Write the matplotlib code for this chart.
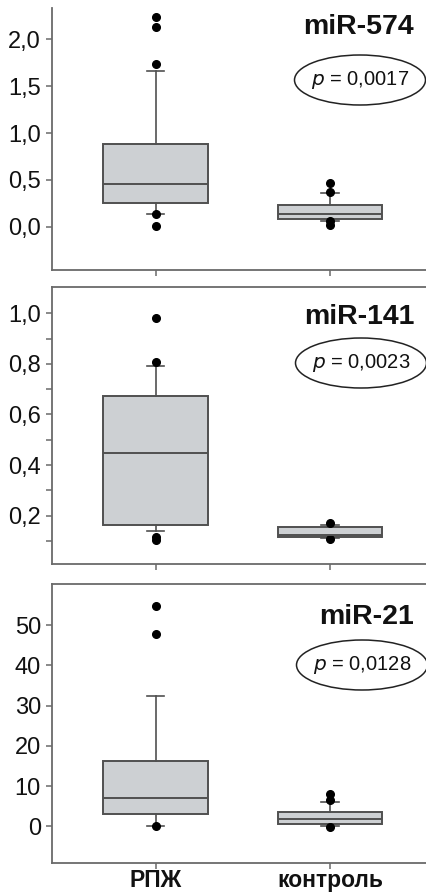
import matplotlib
matplotlib.use("Agg")
import matplotlib.pyplot as plt
from matplotlib.patches import Ellipse

plt.rcParams['font.family'] = ['Liberation Sans', 'DejaVu Sans']
NARROW = ['Liberation Sans Narrow', 'Liberation Sans', 'DejaVu Sans']

groups = ["РПЖ", "контроль"]

# miR-574: q1, median, q3, whisker low, whisker high, outliers
mir574_rpzh = dict(q1=0.25, med=0.456, q3=0.883, whislo=0.139, whishi=1.665,
                   fliers=[2.24, 2.13, 1.74, 0.134, 0.005])
mir574_ctrl = dict(q1=0.082, med=0.132, q3=0.228, whislo=0.064, whishi=0.356,
                   fliers=[0.466, 0.367, 0.06, 0.015])

mir141_rpzh = dict(q1=0.162, med=0.449, q3=0.673, whislo=0.141, whishi=0.792,
                   fliers=[0.98, 0.807, 0.115, 0.104])
mir141_ctrl = dict(q1=0.115, med=0.123, q3=0.154, whislo=0.113, whishi=0.163,
                   fliers=[0.172, 0.107])

mir21_rpzh = dict(q1=3.15, med=6.9, q3=16.2, whislo=0.1, whishi=32.4,
                  fliers=[54.7, 47.7, 0.1])
mir21_ctrl = dict(q1=0.5, med=1.8, q3=3.5, whislo=0.0, whishi=6.05,
                  fliers=[7.9, 6.5, -0.1])

titles = ["miR-574", "miR-141", "miR-21"]
pvalues = ["0,0017", "0,0023", "0,0128"]
yticks = [[0.0, 0.5, 1.0, 1.5, 2.0],
          [0.1, 0.2, 0.3, 0.4, 0.5, 0.6, 0.7, 0.8, 0.9, 1.0],
          [0, 10, 20, 30, 40, 50]]
ytick_labels = [["0,0", "0,5", "1,0", "1,5", "2,0"],
                ["", "0,2", "", "0,4", "", "0,6", "", "0,8", "", "1,0"],
                ["0", "10", "20", "30", "40", "50"]]
ylims = [(-0.462, 2.334), (0.009, 1.104), (-9.13, 60.2)]
panels = [(mir574_rpzh, mir574_ctrl), (mir141_rpzh, mir141_ctrl),
          (mir21_rpzh, mir21_ctrl)]

W, H = 426, 894
fig = plt.figure(figsize=(W / 100, H / 100), dpi=100)

# pixel extents (top, bottom) of each panel
extents = [(8, 270), (287, 564), (584, 863)]
ell_centers = [(360, 80), (361, 363), (362, 665)]
title_y = [27, 317, 617]

spine_col = "#6a6a6a"
edge_col = "#505050"
fill_col = "#cdd0d3"
text_col = "#111111"

for i, (top, bot) in enumerate(extents):
    ax = fig.add_axes([52 / W, 1 - bot / H, 1 - 52 / W, (bot - top) / H])
    stats = []
    for g, d in zip(groups, panels[i]):
        s = dict(d)
        s["label"] = g
        stats.append(s)
    ax.bxp(stats, positions=[1, 2], widths=0.6, capwidths=0.1, patch_artist=True,
           boxprops=dict(facecolor=fill_col, edgecolor=edge_col, linewidth=1.4),
           medianprops=dict(color=edge_col, linewidth=1.4),
           whiskerprops=dict(color=edge_col, linewidth=1.2),
           capprops=dict(color=edge_col, linewidth=1.2),
           flierprops=dict(marker="o", markerfacecolor="black",
                           markeredgecolor="black", markersize=5.5))
    ax.set_xlim(0.405, 2.55)
    ax.set_ylim(*ylims[i])
    ax.set_yticks(yticks[i])
    ax.set_yticklabels(ytick_labels[i], family=NARROW, fontsize=17)
    ax.set_xticks([1, 2])
    if i == 2:
        ax.set_xticklabels(groups, fontsize=16.5, fontweight="bold", color=text_col)
    else:
        ax.set_xticklabels(["", ""])
    ax.spines["right"].set_visible(False)
    if i == 0:
        ax.spines["top"].set_visible(False)
    for sp in ax.spines.values():
        sp.set_color(spine_col)
        sp.set_linewidth(1.3)
    ax.tick_params(axis="both", colors=spine_col, length=4, width=1.1,
                   labelcolor=text_col)
    ax.tick_params(axis="y", pad=4)
    ax.tick_params(axis="x", pad=0.5)

    fig.text(414 / W, 1 - title_y[i] / H, titles[i], ha="right", va="center",
             fontsize=20.5, fontweight="bold", color=text_col)
    cx, cy = ell_centers[i]
    fig.add_artist(Ellipse((cx / W, 1 - cy / H), 131 / W, 50 / H,
                           transform=fig.transFigure, facecolor="none",
                           edgecolor="#222222", linewidth=1.1))
    fig.text(cx / W, 1 - cy / H, "$\\it{p}$ = " + pvalues[i], ha="center",
             va="center", fontsize=14.5, color=text_col)

fig.savefig("out.png", dpi=100)
